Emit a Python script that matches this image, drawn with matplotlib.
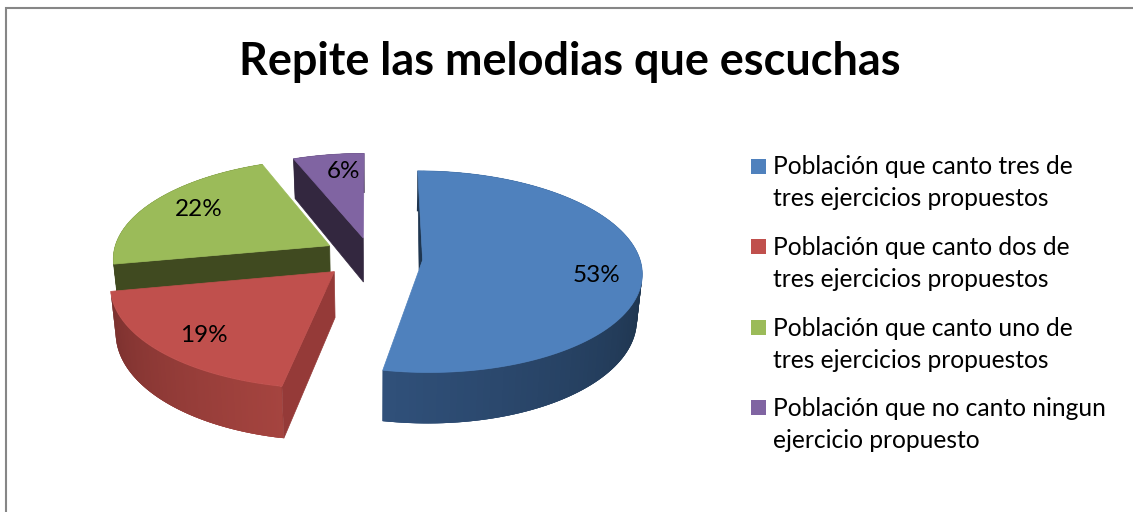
import numpy as np
import matplotlib
matplotlib.use('Agg')
import matplotlib.pyplot as plt
from matplotlib.patches import Polygon, Rectangle

matplotlib.rc('font', family=['Lato', 'DejaVu Sans'])

title = 'Repite las melodias que escuchas'
values = [53, 19, 22, 6]
value_labels = ['53%', '19%', '22%', '6%']
legend_labels = ['Población que canto tres de\ntres ejercicios propuestos',
                 'Población que canto dos de\ntres ejercicios propuestos',
                 'Población que canto uno de\ntres ejercicios propuestos',
                 'Población que no canto ningun\nejercicio propuesto']
top_colors = ['#4f81bd', '#c0504d', '#9bbb59', '#8064a2']
wall_colors = ['#1f3650', '#953a38', '#404a20', '#33273f']
rim_left = ['#1f3650', '#a5443f', '#404a20', '#33273f']
rim_right = ['#30507a', '#7a302e', '#404a20', '#33273f']
explode = [0.22, 0.26, 0.22, 0.22]
nudge = [(1, 4), (1, -1), (-3, 2), (-2, 5)]

# pie geometry in pixels
cx, cy = 374, 254
a, b = 217, 99
persp = 0.115
depth = 45
shrink = 0.98
label_xy = [(597, 276), (204, 336), (199, 209), (343, 172)]

fig = plt.figure(figsize=(11.33, 5.12), dpi=100)
ax = fig.add_axes([0, 0, 1, 1])
ax.set_xlim(0, 1133)
ax.set_ylim(512, 0)
ax.axis('off')


def project(u, v, shift, low=False):
    w = 1 + persp * v
    x = cx + a * u / w
    y = cy - b * v / w
    if low:
        x = cx + (x - cx) * shrink
        y = y + depth / w
    return x + shift[0], y + shift[1]


ax.add_patch(Rectangle((6, 8), 1200, 600, fc='white', ec='#868686', lw=1.5))

edges = np.cumsum([0] + values) / sum(values) * 2 * np.pi

for i in (3, 2, 1, 0):
    t0, t1 = edges[i], edges[i + 1]
    mid = (t0 + t1) / 2
    sh = nudge[i]
    ou, ov = explode[i] * np.sin(mid), explode[i] * np.cos(mid)
    ts = np.linspace(t0, t1, 120)
    us, vs = ou + np.sin(ts), ov + np.cos(ts)

    # outer rim, overlapping quads so the shading has no seams
    left = np.array(matplotlib.colors.to_rgb(rim_left[i]))
    right = np.array(matplotlib.colors.to_rgb(rim_right[i]))
    for j in range(len(ts) - 1):
        k = min(j + 3, len(ts) - 1)
        f = j / (len(ts) - 2)
        if i == 0:
            f = max(0, (f - 0.55) / 0.45)
        c = left + (right - left) * f
        p1 = project(us[j], vs[j], sh)
        p2 = project(us[k], vs[k], sh)
        p3 = project(us[k], vs[k], sh, True)
        p4 = project(us[j], vs[j], sh, True)
        ax.add_patch(Polygon([p1, p2, p3, p4], fc=c, ec='none'))

    # cut face on the start edge
    if i > 0:
        face = [project(ou, ov, sh), project(us[0], vs[0], sh),
                project(us[0], vs[0], sh, True), project(ou, ov, sh, True)]
        ax.add_patch(Polygon(face, fc=wall_colors[i], ec=wall_colors[i], lw=0.5))
    else:
        q = project(ou + 0.1 * np.sin(t1), ov + 0.1 * np.cos(t1), sh)
        sliver = [project(us[0], vs[0], sh), project(ou, ov, sh), q]
        ax.add_patch(Polygon(sliver, fc=wall_colors[i], ec=wall_colors[i], lw=0.5))

    xs, ys = project(np.r_[ou, us], np.r_[ov, vs], sh)
    ax.add_patch(Polygon(np.c_[xs, ys], fc=top_colors[i], ec=top_colors[i], lw=0.5))

for txt, (x, y) in zip(value_labels, label_xy):
    ax.text(x, y, txt, ha='center', va='center', fontsize=17.5, color='black')

ax.text(570, 62, title, ha='center', va='center', fontsize=32.4, fontweight='bold', color='black')

for i, lab in enumerate(legend_labels):
    y = 167 + i * 80.5
    ax.add_patch(Rectangle((751, y - 8.5), 15, 15, fc=top_colors[i], ec='none'))
    line1, line2 = lab.split('\n')
    ax.text(773, y, line1, ha='left', va='center', fontsize=17.75, color='black')
    ax.text(773, y + 32, line2, ha='left', va='center', fontsize=17.75, color='black')

plt.savefig('out.png', dpi=100)
